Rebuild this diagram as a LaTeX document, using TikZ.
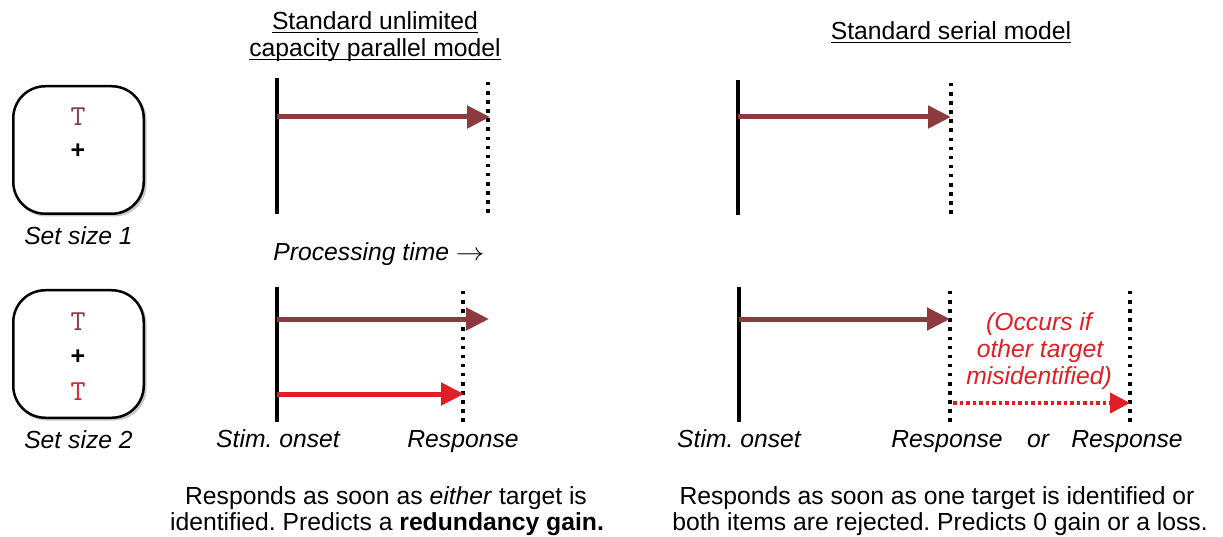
\documentclass[tikz,border=0pt]{standalone}
\usepackage{fontspec}
\setmainfont{Liberation Sans}
\usetikzlibrary{arrows.meta}
\definecolor{dred}{RGB}{139,58,62}
\definecolor{bred}{RGB}{225,30,36}
\frenchspacing
\tikzset{
  txt/.style={font=\fontsize{24.7}{27}\selectfont, inner sep=0pt, anchor=base},
  itxt/.style={font=\fontsize{24.7}{27}\selectfont\itshape, inner sep=0pt, anchor=base},
  redtxt/.style={itxt, text=bred},
  setbox/.style={draw, line width=2.5pt, rounded corners=32pt, minimum width=130.5pt, minimum height=127.5pt, fill=white, inner sep=0pt},
  shadowbox/.style={fill=black!22, rounded corners=32pt, minimum width=132pt, minimum height=129pt, inner sep=0pt},
  tletter/.style={font=\fontsize{29}{29}\selectfont\ttfamily, inner sep=0pt},
  plus/.style={font=\fontsize{25}{25}\selectfont\bfseries, inner sep=0pt},
  onsetline/.style={line width=3.5pt},
  respline/.style={line width=3.5pt, dash pattern=on 3.5pt off 5.6pt},
  darrow/.style={draw=dred, line width=5pt, -{Triangle[length=23pt,width=22pt]}},
  rarrow/.style={draw=bred, line width=5pt, -{Triangle[length=23pt,width=22pt]}},
  rdots/.style={draw=bred, line width=4pt, dash pattern=on 3.5pt off 3pt, -{Triangle[length=20pt,width=20pt]}},
  uline/.style={line width=1.6pt},
}
\begin{document}
\begin{tikzpicture}[x=1pt,y=-1pt]
\useasboundingbox (0,0) rectangle (1223,537);

% titles
\node[txt] (title1a) at (375,30) {Standard unlimited};
\node[txt] (title1b) at (375,57) {capacity parallel model};
\node[txt] (title2) at (951,40) {Standard serial model};
\draw[uline] ([yshift=-2.5pt]title1a.base west) -- ([yshift=-2.5pt]title1a.base east);
\draw[uline] ([yshift=-2.5pt]title1b.base west) -- ([yshift=-2.5pt]title1b.base east);
\draw[uline] ([yshift=-2.5pt]title2.base west) -- ([yshift=-2.5pt]title2.base east);

% set size boxes
\node[shadowbox] (sh1) at (80.5,152) {};
\node[setbox] (box1) at (78.5,150) {};
\node[tletter, text=dred] (t11) at (78,116.5) {T};
\node[plus] (p1) at (78,151.5) {+};
\node[itxt] (ss1) at (78.5,245) {Set size 1};

\node[shadowbox] (sh2) at (80.5,356) {};
\node[setbox] (box2) at (78.5,354) {};
\node[tletter, text=dred] (t21) at (78,321.5) {T};
\node[plus] (p2) at (78,357) {+};
\node[tletter, text=bred] (t22) at (78,391.5) {T};
\node[itxt] (ss2) at (78.5,448) {Set size 2};

% panel 1 top
\coordinate (a1t) at (277,78);  \coordinate (a1b) at (277,214);
\coordinate (r1t) at (488,82);  \coordinate (r1b) at (488,214);
\coordinate (a1s) at (277,117); \coordinate (a1e) at (490,117);
\draw[onsetline] (a1t) -- (a1b);
\draw[respline] (r1t) -- (r1b);
\draw[darrow] (a1s) -- (a1e);

\node[itxt] (ptime) at (379,261) {Processing time \scalebox{1.15}[1]{$\rightarrow$}};

% panel 1 bottom
\coordinate (a2t) at (277,287);  \coordinate (a2b) at (277,422);
\coordinate (r2t) at (463,291);  \coordinate (r2b) at (463,422);
\coordinate (a2s) at (277,319);  \coordinate (a2e) at (489,319);
\coordinate (a3s) at (277,394);  \coordinate (a3e) at (464,394);
\draw[onsetline] (a2t) -- (a2b);
\draw[respline] (r2t) -- (r2b);
\draw[darrow] (a2s) -- (a2e);
\draw[rarrow] (a3s) -- (a3e);
\node[itxt] (on1) at (278,447) {Stim. onset};
\node[itxt] (re1) at (463,447) {Response};

% panel 2 top
\coordinate (b1t) at (738,80);  \coordinate (b1b) at (738,215);
\coordinate (s1t) at (951,83);  \coordinate (s1b) at (951,214);
\coordinate (b1s) at (738,117); \coordinate (b1e) at (951,117);
\draw[onsetline] (b1t) -- (b1b);
\draw[respline] (s1t) -- (s1b);
\draw[darrow] (b1s) -- (b1e);

% panel 2 bottom
\coordinate (b2t) at (739,287);  \coordinate (b2b) at (739,422);
\coordinate (s2t) at (950,291);  \coordinate (s2b) at (950,422);
\coordinate (s3t) at (1130,291); \coordinate (s3b) at (1130,422);
\coordinate (b2s) at (739,319);  \coordinate (b2e) at (950,319);
\coordinate (b3s) at (953,403);  \coordinate (b3e) at (1130,403);
\draw[onsetline] (b2t) -- (b2b);
\draw[respline] (s2t) -- (s2b);
\draw[respline] (s3t) -- (s3b);
\draw[darrow] (b2s) -- (b2e);
\draw[rdots] (b3s) -- (b3e);
\node[redtxt] (oc1) at (1039,330) {(Occurs if};
\node[redtxt] (oc2) at (1040,357) {other target};
\node[redtxt] (oc3) at (1039,384) {misidentified)};
\node[itxt] (on2) at (739,447) {Stim. onset};
\node[itxt] (re2) at (947,447) {Response};
\node[itxt] (or2) at (1038,447) {or};
\node[itxt] (re3) at (1127,447) {Response};

% bottom texts
\node[txt] (d1a) at (386,504) {Responds as soon as \textit{either} target is};
\node[txt] (d1b) at (387,530) {identified. Predicts a \textbf{redundancy gain.}};
\node[txt] (d2a) at (937,504) {Responds as soon as one target is identified or};
\node[txt] (d2b) at (940,530) {both items are rejected. Predicts 0 gain or a loss.};
\end{tikzpicture}
\end{document}
